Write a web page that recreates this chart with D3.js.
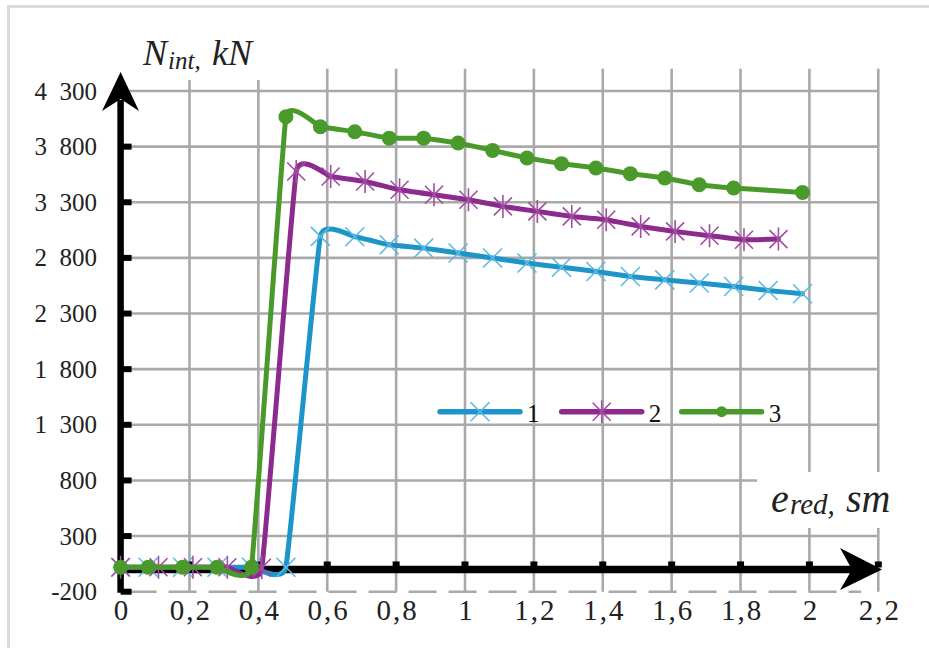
<!DOCTYPE html>
<html>
<head>
<meta charset="utf-8">
<script src="https://cdn.jsdelivr.net/npm/d3@7"></script>
<style>
  body { margin: 0; background: #fff; }
  svg { display: block; }
</style>
</head>
<body>
<svg id="chart" width="929" height="648"></svg>
<script>
// tick values
const yTicks = [-200, 300, 800, 1300, 1800, 2300, 2800, 3300, 3800, 4300];
const xTicks = [0, 0.2, 0.4, 0.6, 0.8, 1, 1.2, 1.4, 1.6, 1.8, 2, 2.2];

// series 1 (blue, x markers)
const s1x = [0, 0.08, 0.18, 0.28, 0.38, 0.48, 0.58, 0.68, 0.78, 0.88, 0.98, 1.08, 1.18, 1.28, 1.38, 1.48, 1.58, 1.68, 1.78, 1.88, 1.98];
const s1y = [20, 20, 20, 20, 20, 20, 2993, 2990, 2918, 2888, 2844, 2799, 2754, 2716, 2678, 2633, 2603, 2574, 2543, 2507, 2478];

// series 2 (purple, asterisk markers)
const s2x = [0, 0.11, 0.21, 0.31, 0.41, 0.51, 0.61, 0.71, 0.81, 0.91, 1.01, 1.11, 1.21, 1.31, 1.41, 1.51, 1.61, 1.71, 1.81, 1.91];
const s2y = [20, 20, 20, 20, 15, 3577, 3532, 3487, 3413, 3368, 3323, 3263, 3218, 3173, 3143, 3083, 3038, 2999, 2963, 2969];

// series 3 (green, dot markers)
const s3x = [0, 0.08, 0.18, 0.28, 0.38, 0.48, 0.58, 0.68, 0.78, 0.88, 0.98, 1.08, 1.18, 1.28, 1.38, 1.48, 1.58, 1.68, 1.78, 1.98];
const s3y = [20, 20, 20, 20, 20, 4069, 3979, 3934, 3876, 3876, 3833, 3766, 3698, 3647, 3608, 3557, 3518, 3458, 3428, 3388];

const seriesNames = ["1", "2", "3"];

const FONT = "Liberation Serif";

const colors = {
  blue: "#1d95c9", blueMark: "#5cbae2",
  purple: "#8c2b8d", purpleMark: "#a24ca3",
  green: "#4a9a2b",
  grid: "#a9a9a9"
};

const svg = d3.select("#chart");

const x = d3.scaleLinear().domain([0, 2.2]).range([120.6, 878.3]);
const y = d3.scaleLinear().domain([-200, 4300]).range([591.7, 91]);

const fmtY = d => d < 0 ? "-" + Math.abs(d) : d3.format(",")(d).replace(",", "\u2002");
const fmtX = d => String(d).replace(".", ",");

// outer frame
svg.append("rect")
  .attr("x", 8.5).attr("y", 6.5)
  .attr("width", 960).attr("height", 700)
  .attr("fill", "none")
  .attr("stroke", "#dadada")
  .attr("stroke-width", 3);

// grid
const grid = svg.append("g");
grid.selectAll("line.v")
  .data(xTicks.slice(1))
  .join("line")
  .attr("x1", d => x(d)).attr("x2", d => x(d))
  .attr("y1", y(4500)).attr("y2", y(-200))
  .attr("stroke", colors.grid).attr("stroke-width", 2.6);

grid.selectAll("line.h")
  .data(yTicks.slice(1))
  .join("line")
  .attr("x1", x(0)).attr("x2", x(2.2))
  .attr("y1", d => y(d)).attr("y2", d => y(d))
  .attr("stroke", colors.grid).attr("stroke-width", 2.6);

grid.append("line")
  .attr("x1", x(0)).attr("x2", x(2.15))
  .attr("y1", y(-200)).attr("y2", y(-200))
  .attr("stroke", colors.grid).attr("stroke-width", 2.6)
  .attr("stroke-dasharray", "28 12")
  .attr("stroke-dashoffset", -8);

// white boxes behind axis titles
svg.append("rect").attr("x", 135).attr("y", 30).attr("width", 165).attr("height", 50).attr("fill", "#fff");
svg.append("rect").attr("x", 757).attr("y", 472).attr("width", 150).attr("height", 56).attr("fill", "#fff");

// axis titles
const yt = svg.append("text")
  .attr("y", 65)
  .attr("font-family", FONT)
  .attr("font-style", "italic").attr("font-size", 36).attr("fill", "#222");
yt.append("tspan").attr("x", 143).text("N");
yt.append("tspan").attr("x", 168).attr("font-size", 25).attr("dy", 4).text("int,");
yt.append("tspan").attr("x", 212).attr("dy", -4).text("kN");

const xt = svg.append("text")
  .attr("y", 511.7)
  .attr("font-family", FONT)
  .attr("font-style", "italic").attr("font-size", 40).attr("fill", "#222");
xt.append("tspan").attr("x", 771).text("e");
xt.append("tspan").attr("x", 790).attr("font-size", 29).attr("dy", 2).text("red,");
xt.append("tspan").attr("x", 846).attr("dy", -2).text("sm");

// tick labels
svg.append("g").selectAll("text")
  .data(yTicks)
  .join("text")
  .attr("x", 97).attr("y", d => y(d) + 8.5)
  .attr("text-anchor", "end")
  .attr("font-family", FONT)
  .attr("font-size", 25).attr("fill", "#222")
  .text(fmtY);

svg.append("g").selectAll("text")
  .data(xTicks)
  .join("text")
  .attr("x", d => x(d) + 1.5).attr("y", 620)
  .attr("text-anchor", "middle")
  .attr("font-family", FONT)
  .attr("font-size", 29).attr("letter-spacing", 2).attr("fill", "#222")
  .text(fmtX);

// axes
const axis = svg.append("g").attr("fill", "#000");
axis.append("line")
  .attr("x1", x(0)).attr("x2", x(0))
  .attr("y1", y(-200) + 1).attr("y2", 100)
  .attr("stroke", "#000").attr("stroke-width", 6.5);
axis.append("path")
  .attr("d", `M${x(0)},72 L139,111 L${x(0)},99 L102,111 Z`);
axis.selectAll("rect.yt")
  .data(yTicks.slice(0, -1))
  .join("rect")
  .attr("x", x(0)).attr("y", d => y(d) - 3).attr("width", 11).attr("height", 6);

axis.append("line")
  .attr("x1", x(0) - 3).attr("x2", 855)
  .attr("y1", y(0)).attr("y2", y(0))
  .attr("stroke", "#000").attr("stroke-width", 7.5);
axis.append("path")
  .attr("d", `M882,${y(0)} L840,548 L852,${y(0)} L840,590 Z`);
axis.selectAll("rect.xt")
  .data(xTicks.slice(1))
  .join("rect")
  .attr("x", d => x(d) - 3.5).attr("y", y(0) - 8).attr("width", 7).attr("height", 6);

// series
const crossPath = "M-9.5,-9.5L9.5,9.5M-9.5,9.5L9.5,-9.5";
const starPath = "M-9,-9L9,9M-9,9L9,-9M0,-11.5L0,11.5";

const series = [
  { name: seriesNames[0], pts: d3.zip(s1x, s1y), color: colors.blue, mark: "cross", markColor: colors.blueMark, tension: 0.7 },
  { name: seriesNames[1], pts: d3.zip(s2x, s2y), color: colors.purple, mark: "star", markColor: colors.purpleMark, tension: 0.7 },
  { name: seriesNames[2], pts: d3.zip(s3x, s3y), color: colors.green, mark: "dot", markColor: colors.green, tension: 0.75 }
];

function drawMarker(g, s, r) {
  if (s.mark === "dot") {
    g.append("circle").attr("r", r).attr("fill", s.markColor);
  } else {
    g.append("path")
      .attr("d", s.mark === "cross" ? crossPath : starPath)
      .attr("fill", "none")
      .attr("stroke", s.markColor)
      .attr("stroke-width", 1.6);
  }
}

series.forEach(s => {
  const line = d3.line()
    .x(d => x(d[0])).y(d => y(d[1]))
    .curve(d3.curveCardinal.tension(s.tension));
  const g = svg.append("g");
  g.append("path")
    .datum(s.pts)
    .attr("d", line)
    .attr("fill", "none")
    .attr("stroke", s.color)
    .attr("stroke-width", 5)
    .attr("stroke-linejoin", "round")
    .attr("stroke-linecap", "round");
  s.pts.forEach(p => {
    const m = g.append("g").attr("transform", `translate(${x(p[0])},${y(p[1])})`);
    drawMarker(m, s, 7.5);
  });
});

// legend
const legendX = [440, 561.7, 681.7];
const legendY = 411.7;
series.forEach((s, i) => {
  const g = svg.append("g").attr("transform", `translate(${legendX[i]},${legendY})`);
  g.append("line")
    .attr("x1", 0).attr("x2", 80)
    .attr("stroke", s.color).attr("stroke-width", 5.5)
    .attr("stroke-linecap", "round");
  const m = g.append("g").attr("transform", "translate(40,0)");
  drawMarker(m, s, 5.5);
  g.append("text")
    .attr("x", 87).attr("y", 10)
    .attr("font-family", FONT)
    .attr("font-size", 25).attr("fill", "#111")
    .text(s.name);
});
</script>
</body>
</html>
